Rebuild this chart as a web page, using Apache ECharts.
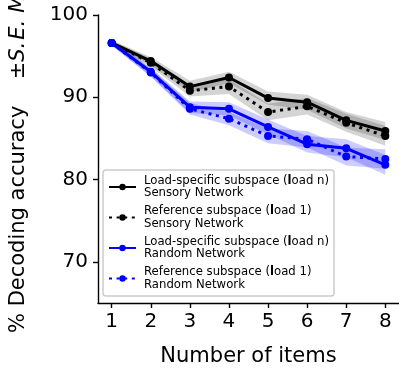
<!DOCTYPE html>
<html>
<head>
<meta charset="utf-8">
<script src="https://cdn.jsdelivr.net/npm/echarts@6/dist/echarts.min.js"></script>
<style>
html,body{margin:0;padding:0;background:#fff;}
#chart{width:399px;height:369px;}
</style>
</head>
<body>
<div id="chart"></div>
<script>
// ---- data ----
var items = [1, 2, 3, 4, 5, 6, 7, 8];
var sensoryLoadN = [96.6, 94.4, 91.3, 92.4, 89.9, 89.4, 87.2, 85.9];
var sensoryLoad1 = [96.6, 94.2, 90.8, 91.3, 88.2, 88.9, 86.9, 85.3];
var randomLoadN = [96.6, 93.1, 88.8, 88.6, 86.4, 84.3, 83.8, 81.8];
var randomLoad1 = [96.6, 93.0, 88.6, 87.4, 85.3, 84.9, 82.8, 82.5];
var sensoryLoadNSem = [0.3, 0.5, 0.7, 0.7, 0.8, 0.9, 1.0, 1.1];
var sensoryLoad1Sem = [0.3, 0.5, 0.7, 0.9, 1.0, 1.0, 1.1, 1.2];
var randomLoadNSem = [0.3, 0.5, 0.7, 0.8, 0.9, 1.0, 1.1, 1.2];
var randomLoad1Sem = [0.3, 0.5, 0.7, 0.8, 0.9, 1.0, 1.1, 1.2];
var xTicks = [1, 2, 3, 4, 5, 6, 7, 8];
var yTicks = [70, 80, 90, 100];
var names = [
  'Load-specific subspace (load n)\nSensory Network',
  'Reference subspace (load 1)\nSensory Network',
  'Load-specific subspace (load n)\nRandom Network',
  'Reference subspace (load 1)\nRandom Network'
];

var FONT = 'DejaVu Sans';
var chart = echarts.init(document.getElementById('chart'), null, {renderer: 'canvas'});

function pairs(ys) { return items.map(function (x, i) { return [x, ys[i]]; }); }

function band(means, sems, color) {
  return {
    type: 'custom',
    silent: true,
    clip: true,
    z: 1,
    data: [[items[0], means[0]]],
    renderItem: function (params, api) {
      var pts = [];
      for (var i = 0; i < items.length; i++) pts.push(api.coord([items[i], means[i] + sems[i]]));
      for (var j = items.length - 1; j >= 0; j--) pts.push(api.coord([items[j], means[j] - sems[j]]));
      return { type: 'polygon', shape: { points: pts }, style: { fill: color, stroke: null } };
    }
  };
}

function line(name, ys, color, dotted) {
  return {
    name: name,
    type: 'line',
    data: pairs(ys),
    z: 3,
    symbol: 'circle',
    symbolSize: 8,
    showAllSymbol: true,
    itemStyle: { color: color },
    lineStyle: { color: color, width: 3, type: dotted ? [3, 4.6] : 'solid' },
    emphasis: { disabled: true },
    animation: false
  };
}

var option = {
  animation: false,
  backgroundColor: '#fff',
  grid: { left: 98, top: 15, width: 301, height: 288, containLabel: false, outerBoundsMode: 'none' },
  xAxis: {
    type: 'value', min: 0.65, max: 8.35,
    axisLine: { show: true, lineStyle: { color: '#000', width: 1.4 } },
    axisTick: { show: true, customValues: xTicks, length: 5, lineStyle: { color: '#000', width: 1.4 } },
    axisLabel: { customValues: xTicks, color: '#000', fontSize: 20, fontFamily: FONT, margin: 9 },
    splitLine: { show: false },
    name: 'Number of items', nameLocation: 'middle', nameGap: 43,
    nameTextStyle: { color: '#000', fontSize: 21, fontFamily: FONT }
  },
  yAxis: {
    type: 'value', min: 65, max: 100,
    axisLine: { show: true, lineStyle: { color: '#000', width: 1.4 } },
    axisTick: { show: true, customValues: yTicks, length: 5, lineStyle: { color: '#000', width: 1.4 } },
    axisLabel: { customValues: yTicks, color: '#000', fontSize: 20, fontFamily: FONT, margin: 10 },
    splitLine: { show: false }
  },
  legend: {
    orient: 'vertical', left: 103, top: 170,
    padding: [4.5, 5, 5, 5], itemGap: 5.5, itemWidth: 27, itemHeight: 8,
    backgroundColor: 'rgba(255,255,255,0.8)', borderColor: '#cccccc', borderWidth: 1.5, borderRadius: 3,
    data: names,
    formatter: function (n) { return n.replace('(load', '({b|l}oad'); },
    textStyle: { fontFamily: FONT, fontSize: 11.7, lineHeight: 12.5, color: '#000', padding: [0, 0, 0, 3],
      rich: { b: { fontFamily: FONT, fontSize: 11.7, lineHeight: 12.5, fontWeight: 'bold', color: '#000' } } }
  },
  graphic: [{
    type: 'text', x: 19, y: 333, rotation: Math.PI / 2,
    style: {
      text: '% Decoding accuracy  {pm|±}{it|S.}{it2|E.}{it3|M.}',
      fontFamily: FONT, fontSize: 21, fill: '#000',
      textAlign: 'left', textVerticalAlign: 'middle',
      rich: {
        pm: { fontFamily: FONT, fontSize: 21, padding: [0, 0, 0, 13] },
        it: { fontFamily: FONT, fontSize: 21, fontStyle: 'italic' },
        it2: { fontFamily: FONT, fontSize: 21, fontStyle: 'italic', padding: [0, 0, 0, 2] },
        it3: { fontFamily: FONT, fontSize: 21, fontStyle: 'italic', padding: [0, 0, 0, 7] }
      }
    }
  }],
  series: [
    band(sensoryLoadN, sensoryLoadNSem, 'rgba(0,0,0,0.17)'),
    band(sensoryLoad1, sensoryLoad1Sem, 'rgba(0,0,0,0.17)'),
    band(randomLoadN, randomLoadNSem, 'rgba(0,0,255,0.2)'),
    band(randomLoad1, randomLoad1Sem, 'rgba(0,0,255,0.2)'),
    line(names[0], sensoryLoadN, '#000000', false),
    line(names[1], sensoryLoad1, '#000000', true),
    line(names[2], randomLoadN, '#0000ff', false),
    line(names[3], randomLoad1, '#0000ff', true)
  ]
};
chart.setOption(option);
</script>
</body>
</html>
